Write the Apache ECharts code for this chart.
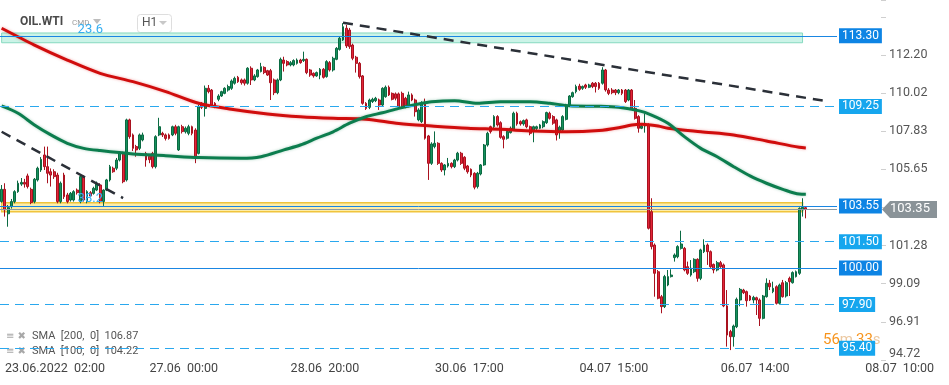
<!DOCTYPE html>
<html><head><meta charset="utf-8">
<script src="https://cdn.jsdelivr.net/npm/echarts@6/dist/echarts.min.js"></script>
<style>html,body{margin:0;padding:0;background:#fff}#c{width:949px;height:385px}</style>
</head><body><div id="c"></div>
<script>
// ---------- data ----------
const opens = [
103.80,104.50,103.10,103.51,103.80,104.37,104.80,104.90,105.27,104.50,103.80,105.04,105.61,106.47,105.80,105.51,105.51,105.32,103.80,105.32,
104.18,103.89,103.89,104.46,103.80,105.23,103.80,104.31,104.27,104.46,104.75,103.80,104.46,105.04,105.71,105.71,106.18,106.56,105.04,108.48,
107.62,106.95,106.85,107.33,106.56,106.40,106.56,105.80,107.62,107.71,107.62,107.62,107.62,108.09,106.76,108.09,107.80,107.71,108.09,107.90,
106.56,
109.43,109.14,110.29,110.19,109.43,109.66,109.85,110.00,110.19,110.29,110.58,110.92,110.77,110.77,110.58,111.44,110.77,110.96,111.25,111.49,
111.30,111.30,110.77,110.04,110.77,111.91,111.82,111.63,111.63,111.72,111.91,111.88,111.95,111.34,111.15,111.00,111.05,111.38,110.96,111.76,
111.34,111.95,112.52,113.06,113.73,113.63,112.77,112.07,111.72,111.00,109.43,109.20,109.53,109.58,109.62,109.33,109.81,110.35,110.00,109.97,
109.97,
110.00,109.72,109.28,109.91,109.62,108.48,108.38,109.43,107.56,105.99,106.95,107.14,105.99,105.61,105.84,105.99,105.80,106.18,106.57,106.34,
105.84,105.65,105.42,104.66,105.38,105.90,107.04,108.09,108.09,108.67,108.32,107.52,107.43,107.75,107.90,108.86,108.38,108.25,108.48,108.09,
107.81,107.98,108.00,108.09,108.32,108.86,108.67,108.48,107.81,107.90,108.51,109.34,109.81,110.10,110.42,110.29,110.48,110.35,110.58,110.58,
110.58,110.58,111.34,
110.19,110.19,110.19,110.04,110.19,110.19,109.62,110.19,109.14,108.67,108.00,108.13,108.19,103.22,101.31,99.78,98.35,97.78,99.02,99.50,
100.59,100.64,101.12,101.12,100.07,99.59,99.78,100.49,99.40,100.93,101.31,100.93,100.20,99.88,100.30,100.17,97.82,96.35,96.06,96.63,
98.16,98.73,98.64,98.39,98.16,98.29,98.16,97.11,98.35,99.12,98.64,98.92,97.97,99.15,98.39,99.40,99.15,99.50,99.69,103.32,
103.45];
const closes = [
104.50,103.32,103.45,103.80,104.37,104.85,104.90,104.80,104.66,103.74,105.08,105.71,106.22,105.80,105.42,105.32,105.23,103.80,104.85,104.08,
103.80,104.27,104.37,104.31,105.23,103.89,104.37,104.12,104.56,104.85,103.80,104.46,105.04,105.80,105.51,106.18,106.56,104.94,108.48,107.52,
106.85,106.76,107.62,107.62,106.18,106.20,105.80,107.52,108.09,107.62,107.42,107.42,108.09,107.71,108.09,107.81,108.00,108.09,107.71,106.37,
109.24,
109.20,110.29,110.10,109.33,109.24,109.85,110.10,110.29,110.39,110.71,110.86,110.67,110.61,110.58,111.44,110.77,111.00,111.34,111.53,111.19,
111.05,110.61,110.04,110.77,111.95,111.72,111.63,111.76,111.88,111.91,111.76,111.95,111.19,111.05,111.00,111.19,111.38,110.92,111.82,111.34,
112.01,112.58,113.16,113.82,112.72,112.68,112.01,111.72,110.96,109.43,109.14,109.62,109.66,109.72,109.33,110.29,110.35,109.91,109.66,109.72,
109.24,
109.24,109.24,109.91,109.62,108.95,109.05,109.43,107.43,105.99,107.10,107.14,105.99,105.61,105.90,105.99,105.80,106.18,106.57,105.99,105.71,
105.51,105.32,104.62,105.42,105.90,107.04,107.71,107.81,108.67,108.19,107.48,107.37,107.81,108.00,108.86,108.25,108.25,108.44,108.09,107.71,
108.09,108.09,108.19,108.38,108.90,108.57,108.29,107.62,108.06,108.67,109.34,109.85,110.04,110.39,110.23,110.39,110.35,110.48,110.39,110.39,
110.29,111.34,110.20,
110.00,110.04,110.04,110.19,110.00,109.53,110.19,109.14,108.57,108.00,108.13,108.28,102.27,101.22,99.69,98.26,97.78,99.50,99.50,99.59,
100.74,101.22,101.37,99.88,99.69,99.98,100.49,99.40,101.03,101.31,100.93,100.07,99.88,100.30,100.07,97.82,96.15,96.06,96.67,98.20,
98.77,98.58,98.12,98.16,98.31,98.16,97.11,98.39,99.12,98.92,98.83,97.97,99.02,98.35,99.15,99.21,99.73,99.78,103.41,103.47,
103.35];
const lows = [
103.74,102.94,102.36,103.40,103.70,104.30,104.70,104.60,104.55,103.65,103.70,104.95,105.50,105.61,104.85,104.66,105.10,103.70,103.70,103.95,
103.70,103.80,103.80,104.20,103.70,103.80,103.70,104.05,104.20,104.40,103.70,103.55,104.40,104.95,105.45,105.60,106.10,104.85,104.95,107.40,
106.70,106.37,106.75,107.25,105.80,106.00,105.70,105.70,107.55,107.50,107.30,107.35,107.55,107.60,106.70,107.70,107.70,107.60,107.60,106.00,
106.50,
109.10,108.67,110.00,109.25,109.15,109.55,109.80,109.95,110.10,110.20,110.50,110.60,110.50,110.45,110.50,110.48,110.70,110.90,111.20,111.10,
111.00,109.62,109.90,109.95,110.70,111.25,111.55,111.55,111.55,111.65,111.70,111.80,111.10,110.95,110.90,110.95,110.81,110.85,110.90,111.25,
111.25,111.90,112.45,113.00,112.60,112.55,111.90,111.19,110.85,109.35,109.05,109.10,109.45,109.50,109.05,109.25,109.75,109.85,109.60,109.60,
109.15,
109.15,109.15,109.20,109.55,108.67,108.40,108.30,107.35,105.04,105.90,106.85,105.90,105.50,105.30,105.75,105.70,105.72,106.10,105.90,105.60,
105.40,105.20,104.50,104.55,105.30,105.85,106.95,107.70,108.00,108.10,107.40,106.85,107.35,107.70,107.85,108.15,108.15,108.15,108.00,107.60,
107.20,107.90,107.95,108.00,108.25,108.50,108.20,107.30,107.40,107.85,108.45,109.25,109.75,110.00,110.15,110.20,110.25,110.30,110.30,110.05,
110.20,110.50,110.10,
109.90,109.95,109.90,109.95,109.90,109.45,109.55,109.05,108.50,107.75,107.95,107.75,102.20,101.06,98.35,98.20,97.40,97.70,98.95,99.45,
100.36,100.55,101.05,99.80,99.60,99.50,99.70,99.21,99.30,100.85,100.17,100.00,99.69,99.80,100.00,97.75,95.49,95.29,95.49,96.55,
97.80,98.50,97.78,98.10,97.97,97.30,96.67,97.05,98.30,98.73,98.55,97.90,97.90,98.30,98.30,98.39,99.10,99.45,99.60,102.94,
102.84];
const highs = [
104.75,104.85,103.60,103.95,104.45,105.00,105.15,105.10,105.40,104.60,105.15,105.80,106.35,106.95,106.95,105.70,105.65,105.45,104.95,105.45,
104.30,104.35,104.45,104.55,105.30,105.30,104.45,104.40,104.65,104.95,104.85,104.50,105.10,105.90,105.80,106.30,106.65,106.65,108.55,108.55,
107.70,107.05,107.70,107.75,106.65,106.50,106.65,107.60,108.60,107.80,107.70,107.70,108.15,108.20,108.15,108.20,108.10,108.20,108.15,108.00,
109.35,
109.50,110.45,110.48,110.25,109.50,109.95,110.15,110.35,110.50,110.80,110.96,111.00,110.85,110.85,111.50,111.55,111.10,111.40,111.75,111.55,
111.35,111.40,110.85,110.85,112.05,112.10,111.90,111.85,111.95,112.00,111.98,112.39,112.00,111.40,111.20,111.25,111.45,111.45,111.90,111.85,
112.10,112.65,113.25,114.02,113.92,113.75,112.85,112.15,111.80,111.05,109.50,109.70,109.75,109.80,109.70,110.35,110.45,110.45,110.05,110.05,
110.05,
110.10,109.80,110.10,110.00,109.70,109.15,109.55,109.70,107.62,107.20,107.82,107.20,106.05,105.95,106.30,106.05,106.25,106.65,106.65,106.40,
105.90,105.70,105.48,105.50,105.95,107.10,107.80,108.15,108.75,108.75,108.40,107.60,107.90,108.10,108.95,108.95,108.45,108.50,108.55,108.15,
108.15,108.15,108.25,108.45,108.95,108.95,108.75,108.55,108.15,108.75,109.40,109.90,110.10,110.50,110.55,110.45,110.55,110.55,110.65,110.65,
110.65,111.50,111.40,
110.30,110.30,110.25,110.25,110.25,110.25,110.25,110.25,109.62,108.75,108.20,108.86,108.28,103.99,101.40,99.88,98.45,99.60,99.88,99.92,
100.83,101.30,102.13,101.20,100.36,100.45,100.55,100.55,101.10,101.64,101.40,101.00,100.25,100.40,100.40,100.25,98.73,96.45,96.75,98.30,
98.85,98.80,98.70,98.45,98.40,98.35,98.25,98.45,99.40,99.31,99.21,99.00,99.10,99.31,99.25,99.50,99.80,99.85,103.47,103.99,
103.50];
// moving averages, read at sampled candle indices [index, value]
const sma200 = [[0,113.73],[10,112.77],[20,111.91],[30,111.15],[40,110.67],[50,110.10],[60,109.43],[70,109.09],[81,108.82],[91,108.66],
  [101,108.57],[111,108.52],[121,108.27],[131,108.13],[142,108.00],[152,107.94],[162,107.84],[172,107.80],[182,107.87],[188,108.03],
  [192,108.19],[195,108.23],[200,108.13],[203,108.00],[213,107.80],[223,107.62],[233,107.27],[243,106.91],[245,106.87]];
const sma100 = [[0,109.28],[5,108.86],[10,108.19],[15,107.62],[20,107.14],[25,106.85],[30,106.72],[40,106.53],[50,106.43],[60,106.32],
  [73,106.28],[79,106.37],[86,106.76],[91,107.04],[96,107.43],[101,107.80],[106,108.29],[111,108.66],[116,108.89],[121,109.14],
  [127,109.39],[131,109.52],[138,109.58],[145,109.43],[152,109.52],[161,109.52],[167,109.43],[173,109.29],[182,109.26],[188,109.20],
  [194,109.01],[198,108.76],[203,108.29],[208,107.52],[213,106.85],[218,106.37],[223,105.80],[228,105.27],[233,104.85],[238,104.50],
  [243,104.23],[245,104.22]];
const smaLegend = ['SMA  [200,  0]  106.87', 'SMA  [100,  0]  104.22'];
const solidLevels = [113.30, 103.55, 100.00];
const dashedLevels = [109.25, 101.50, 97.90, 95.40];
const zoneTop = [112.90, 113.46];
const zoneBottom = [103.22, 103.73];
const fibTexts = ['23.6', '38.2'];
const fibValues = [113.66, 103.95];
const fibIndex = 27;
const trendA = [[104, 114.05], [251, 109.56]];
const trendB = [[0, 107.80], [37, 104.00]];
const lastPrice = 103.35;
const timeLabels = ['23.06.2022  02:00', '27.06  00:00', '28.06  20:00', '30.06  17:00', '04.07  15:00', '06.07  14:00', '08.07  10:00'];
const timeIdx = [1, 45, 88, 132, 176, 219, 263];
const yMin = 94.7225, yMax = 115.35, yStep = 2.185;
const N_SLOTS = 255, N_LABEL_SLOTS = 289;

// ---------- chart ----------
const chart = echarts.init(document.getElementById('c'), null, {renderer: 'canvas'});
const ohlc = opens.map((o, i) => [o, closes[i], lows[i], highs[i]]);
const slots = Array.from({length: N_SLOTS}, (_, i) => String(i));
const labelSlots = Array.from({length: N_LABEL_SLOTS}, (_, i) => {
  const k = timeIdx.indexOf(i); return k >= 0 ? timeLabels[k] : '';
});
const FONT = 'Roboto';

function levelItem(v, solid) {
  return {
    yAxis: v,
    lineStyle: {color: solid ? '#1a86e2' : '#2aa8ee', width: 1, type: solid ? 'solid' : [9, 6]},
    label: {show: true, position: 'end', distance: 2, formatter: v.toFixed(2), color: '#fff',
      backgroundColor: solid ? '#0d84e4' : '#16a6ee', padding: [2, 3, 1, 3], fontSize: 12, fontFamily: FONT}
  };
}

const option = {
  animation: false,
  backgroundColor: '#fff',
  grid: [
    {left: 0, right: 112, top: 0, bottom: 25},
    {left: 0, right: 0, top: 360, height: 1}
  ],
  xAxis: [
    {type: 'category', gridIndex: 0, data: slots, boundaryGap: true,
     axisLine: {show: false}, axisTick: {show: false}, axisLabel: {show: false}, splitLine: {show: false}},
    {type: 'category', gridIndex: 1, data: labelSlots, boundaryGap: true,
     axisLine: {show: false}, axisTick: {show: false}, splitLine: {show: false},
     axisLabel: {show: true, interval: (i) => timeIdx.indexOf(i) >= 0, align: 'left', margin: 1,
       color: '#444', fontSize: 12.5, fontFamily: FONT}}
  ],
  yAxis: [
    {type: 'value', gridIndex: 0, position: 'right', offset: 44, min: yMin, max: yMax, interval: yStep,
     splitLine: {show: false}, axisLine: {show: false},
     axisTick: {show: true, length: 5, lineStyle: {color: '#cfcfcf'}},
     axisLabel: {margin: 8, color: '#555', fontSize: 12.5, fontFamily: FONT, verticalAlignMinLabel: 'bottom',
       formatter: v => (v > 113.5 || Math.abs(v - lastPrice) < 0.4) ? '' : v.toFixed(2)}},
    {type: 'value', gridIndex: 1, show: false}
  ],
  series: [
    {
      type: 'candlestick', name: 'OIL.WTI', xAxisIndex: 0, yAxisIndex: 0,
      data: ohlc, barWidth: '72%',
      itemStyle: {color: '#16915d', color0: '#e3243a', borderColor: '#0b6a42', borderColor0: '#a9121f', borderWidth: 1},
      markArea: {
        silent: true,
        data: [
          [{xAxis: 0, yAxis: zoneTop[0], itemStyle: {color: 'rgba(160,234,212,0.55)', borderColor: '#86d9bf', borderWidth: 1}},
           {xAxis: 244, yAxis: zoneTop[1]}],
          [{xAxis: 0, yAxis: zoneBottom[0], itemStyle: {color: 'rgba(252,225,110,0.6)', borderColor: '#f0c43c', borderWidth: 1.5}},
           {xAxis: 244, yAxis: zoneBottom[1]}]
        ]
      },
      markLine: {
        silent: true, symbol: ['none', 'none'],
        data: [
          ...dashedLevels.map(v => levelItem(v, false)),
          ...solidLevels.map(v => levelItem(v, true)),
          {yAxis: lastPrice, lineStyle: {color: '#8d9ba3', width: 1, type: 'solid'}, label: {show: false}}
        ]
      },
      markPoint: {
        silent: true, symbol: 'circle', symbolSize: 1, itemStyle: {color: 'rgba(0,0,0,0)'},
        data: fibTexts.map((t, k) => ({coord: [fibIndex, fibValues[k]],
          label: {show: true, position: 'inside', formatter: t, color: '#35aef0', fontSize: 13, fontFamily: FONT}}))
      }
    },
    {
      type: 'line', name: 'SMA200', xAxisIndex: 0, yAxisIndex: 0, data: sma200, smooth: 0.3, symbol: 'none',
      lineStyle: {color: '#d00d0d', width: 3, shadowColor: 'rgba(220,0,0,0.35)', shadowBlur: 3}, z: 3
    },
    {
      type: 'line', name: 'SMA100', xAxisIndex: 0, yAxisIndex: 0, data: sma100, smooth: 0.3, symbol: 'none',
      lineStyle: {color: '#0c7d4e', width: 3, shadowColor: 'rgba(12,125,78,0.35)', shadowBlur: 3}, z: 3
    },
    {
      type: 'line', name: 'trend', xAxisIndex: 0, yAxisIndex: 0, data: [], z: 4,
      markLine: {
        silent: true, symbol: ['none', 'none'], label: {show: false},
        lineStyle: {color: '#2b3038', width: 2.5, type: [10, 7]},
        data: [
          [{coord: trendA[0]}, {coord: trendA[1]}],
          [{coord: trendB[0]}, {coord: trendB[1]}]
        ]
      }
    },
    {type: 'line', xAxisIndex: 1, yAxisIndex: 1, data: []}
  ]
};
chart.setOption(option);

// overlay texts / last price tag (position of tag derived from the price scale)
const yLast = chart.convertToPixel({yAxisIndex: 0}, lastPrice);
chart.setOption({
  graphic: [
    {type: 'text', left: 20, top: 16, style: {text: 'OIL.WTI', fontSize: 12, fontWeight: 'bold', fontFamily: FONT, fill: '#4a4a4a'}},
    {type: 'text', left: 72, top: 19, style: {text: 'CMD', fontSize: 8, fontFamily: FONT, fill: '#9a9a9a'}},
    {type: 'polygon', shape: {points: [[93, 19], [101, 19], [97, 24]]}, style: {fill: '#bdbdbd'}},
    {type: 'rect', shape: {x: 137.5, y: 14.5, width: 34, height: 18, r: 3}, style: {fill: '#fff', stroke: '#dedede', lineWidth: 1}},
    {type: 'text', left: 142, top: 17, style: {text: 'H1', fontSize: 12, fontFamily: FONT, fill: '#555'}},
    {type: 'polygon', shape: {points: [[159, 21], [167, 21], [163, 25]]}, style: {fill: '#c8c8c8'}},
    {type: 'text', left: 6, top: 331, style: {text: '≡ ✖', fontSize: 10, fontFamily: 'DejaVu Sans', fill: '#a8a8a8'}},
    {type: 'text', left: 6, top: 346, style: {text: '≡ ✖', fontSize: 10, fontFamily: 'DejaVu Sans', fill: '#a8a8a8'}},
    {type: 'text', left: 32, top: 331, style: {text: smaLegend[0], fontSize: 11, fontFamily: FONT, fill: '#555'}},
    {type: 'text', left: 32, top: 346, style: {text: smaLegend[1], fontSize: 11, fontFamily: FONT, fill: '#555'}},
    {type: 'text', left: 823, top: 333, z: 5, style: {
      text: '{a|56}{b|m} {a|33}{b|s}', fontFamily: FONT,
      rich: {a: {fontSize: 15, fill: '#f7941d', fontFamily: FONT}, b: {fontSize: 15, fill: '#ecc8a0', fontFamily: FONT}}}},
    {type: 'polygon', z: 10, shape: {points: [[882, yLast], [890, yLast - 8.5], [937, yLast - 8.5], [937, yLast + 8.5], [890, yLast + 8.5]]},
     style: {fill: '#8a9398'}},
    {type: 'text', z: 11, left: 890, top: yLast - 7.5, style: {text: lastPrice.toFixed(2), fontSize: 13, fontFamily: FONT, fill: '#fff'}}
  ]
});
</script></body></html>
